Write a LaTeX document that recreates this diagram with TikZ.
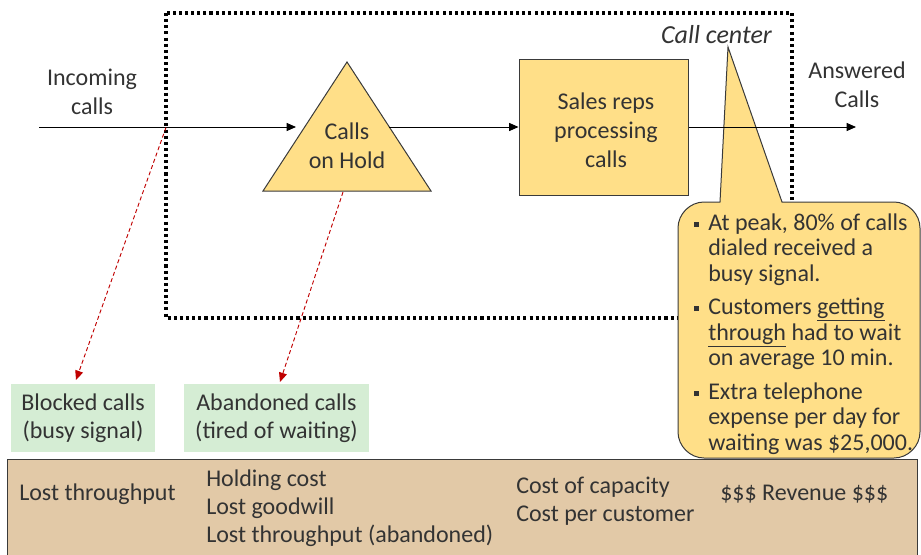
\documentclass[tikz,border=0pt]{standalone}
\usepackage{fontspec}
\setmainfont{Carlito}
\usetikzlibrary{arrows.meta}
\definecolor{ink}{HTML}{333333}
\definecolor{edge}{HTML}{3A3A3A}
\definecolor{boxyellow}{HTML}{FFDF88}
\definecolor{boxgreen}{HTML}{D5EDD4}
\definecolor{boxtan}{HTML}{E2C9A7}
\definecolor{lossred}{HTML}{C00000}
\tikzset{
  lbl/.style={inner sep=0pt, text=ink, font=\fontsize{18}{21.75}\selectfont, align=center},
  lbll/.style={inner sep=0pt, text=ink, font=\fontsize{18}{21}\selectfont, align=left, anchor=west},
  flow/.style={draw=black, line width=0.75pt, -{Triangle[length=7pt,width=6pt]}},
  loss/.style={draw=lossred, line width=0.7pt, dash pattern=on 3pt off 2pt,
               -{Triangle[length=7pt,width=6pt]}},
  stage/.style={draw=edge, line width=0.75pt, fill=boxyellow},
  lossbox/.style={fill=boxgreen, inner sep=0pt, text=ink, align=center,
                  font=\fontsize{18}{21}\selectfont},
}
\newcommand{\bulletsq}{\llap{\rule[2.6pt]{3.6pt}{3.6pt}\hspace{7pt}}}
\begin{document}
\begin{tikzpicture}[x=0.75pt, y=-0.75pt]
\useasboundingbox (0,0) rectangle (921,554);
\clip (0,0) rectangle (921,554);

% call center boundary
\draw[line width=2.3pt, dash pattern=on 2.3pt off 2.3pt] (166,13) rectangle (792,318);

% callout with the key facts
\draw[stage] (720,202) -- (728,47) -- (782,202) -- (894,202)
  .. controls (908,202) and (920,214) .. (920,228) -- (920,432)
  .. controls (920,446) and (908,458) .. (894,458) -- (704,458)
  .. controls (690,458) and (678,446) .. (678,432) -- (678,228)
  .. controls (678,214) and (690,202) .. (704,202) -- cycle;
\node[lbll, font=\fontsize{18}{19.2}\selectfont] (facts) at (708,334)
  {\bulletsq At peak, 80\% of calls\\ dialed received a\\ busy signal.\\[5.8pt]
   \bulletsq Customers \underline{getting}\\ \underline{through} had to wait\\ on average 10 min.\\[5.8pt]
   \bulletsq Extra telephone\\ expense per day for\\ waiting was \$25,000.};

% process stages
\draw[stage] (347,62) -- (431,191) -- (263,191) -- cycle;
\node[lbl] (hold) at (347,146) {Calls\\on Hold};
\coordinate (holdIn) at (296,127);
\coordinate (holdOut) at (389,127);
\coordinate (holdBase) at (343,192);

\node[stage, minimum width=126.75pt, minimum height=102pt, inner sep=0pt] (reps) at (603.5,127) {};
\node[lbl] (repstext) at (606,130) {Sales reps\\processing\\calls};

% flow labels
\node[lbl] (incoming) at (92,92) {Incoming\\calls};
\node[lbl] (answered) at (857,85) {Answered\\Calls};
\node[lbl, font=\fontsize{19.5}{22}\selectfont\itshape] (center) at (716.5,35) {Call center};

\coordinate (src) at (39,127);
\coordinate (gate) at (166,127.5);
\coordinate (sink) at (856,127);

\draw[flow] (src) -- (holdIn);
\draw[flow] (holdOut) -- (reps.west);
\draw[flow] (reps.east) -- (sink);

% losses
\node[lossbox, minimum width=108pt, minimum height=51pt] (blocked) at (83,418) {Blocked calls\\(busy signal)};
\node[lossbox, minimum width=138.75pt, minimum height=51pt] (abandoned) at (276.5,418) {Abandoned calls\\(tired of waiting)};
\coordinate (blockedTip) at (76,380);
\coordinate (abandonedTip) at (280,382);
\draw[loss] (gate) -- (blockedTip);
\draw[loss] (holdBase) -- (abandonedTip);

% economic consequences
\draw[draw=edge, line width=0.75pt, fill=boxtan] (7,459) rectangle (917,570);
\node[lbll] (lostA) at (19,494) {Lost throughput};
\node[lbll] (lostB) at (206,508) {Holding cost\\Lost goodwill\\Lost throughput (abandoned)};
\node[lbll] (capacity) at (516,501) {Cost of capacity\\Cost per customer};
\node[lbll] (revenue) at (720,494) {\$\$\$ Revenue \$\$\$};
\end{tikzpicture}
\end{document}
